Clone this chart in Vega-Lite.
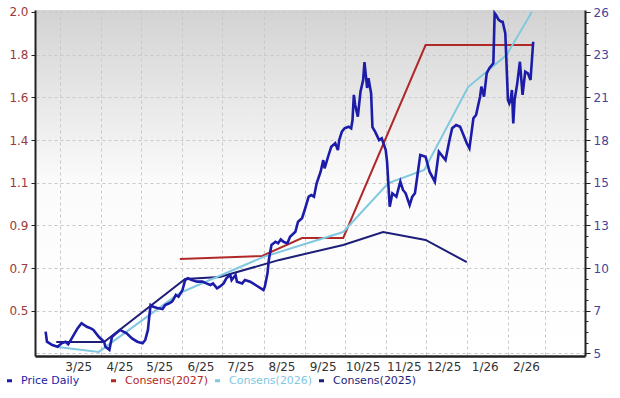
{
  "$schema": "https://vega.github.io/schema/vega-lite/v6.json",
  "width": 550,
  "height": 346,
  "autosize": {"type": "none"},
  "padding": {"left": 35, "top": 10, "right": 35, "bottom": 42},
  "background": "#ffffff",
  "config": {
    "font": "DejaVu Sans",
    "view": {"stroke": null, "fill": {"gradient": "linear", "x1": 0, "y1": 0, "x2": 0, "y2": 1, "stops": [{"offset": 0, "color": "#d3d3d3"}, {"offset": 0.5, "color": "#fbfbfb"}, {"offset": 1, "color": "#ffffff"}]}},
    "axis": {"labelFont": "DejaVu Sans", "labelFontSize": 12, "title": null, "labelOverlap": false, "labelFlush": false}
  },
  "data": {"values": [
    {"s": "Consens(2025)", "d": "2025/02/26", "v": 0.343},
    {"s": "Consens(2025)", "d": "2025/04/03", "v": 0.343},
    {"s": "Consens(2025)", "d": "2025/06/03", "v": 0.659},
    {"s": "Consens(2025)", "d": "2025/06/29", "v": 0.669},
    {"s": "Consens(2025)", "d": "2025/08/13", "v": 0.755},
    {"s": "Consens(2025)", "d": "2025/09/30", "v": 0.83},
    {"s": "Consens(2025)", "d": "2025/10/30", "v": 0.895},
    {"s": "Consens(2025)", "d": "2025/12/01", "v": 0.855},
    {"s": "Consens(2025)", "d": "2026/01/01", "v": 0.744},
    {"s": "Consens(2027)", "d": "2025/05/30", "v": 0.76},
    {"s": "Consens(2027)", "d": "2025/07/31", "v": 0.775},
    {"s": "Consens(2027)", "d": "2025/08/30", "v": 0.865},
    {"s": "Consens(2027)", "d": "2025/09/30", "v": 0.865},
    {"s": "Consens(2027)", "d": "2025/12/01", "v": 1.834},
    {"s": "Consens(2027)", "d": "2026/02/20", "v": 1.834},
    {"s": "Consens(2026)", "d": "2025/02/27", "v": 0.318},
    {"s": "Consens(2026)", "d": "2025/03/30", "v": 0.293},
    {"s": "Consens(2026)", "d": "2025/05/30", "v": 0.589},
    {"s": "Consens(2026)", "d": "2025/08/01", "v": 0.77},
    {"s": "Consens(2026)", "d": "2025/09/30", "v": 0.895},
    {"s": "Consens(2026)", "d": "2025/11/03", "v": 1.141},
    {"s": "Consens(2026)", "d": "2025/11/30", "v": 1.207},
    {"s": "Consens(2026)", "d": "2026/01/02", "v": 1.623},
    {"s": "Consens(2026)", "d": "2026/01/31", "v": 1.784},
    {"s": "Consens(2026)", "d": "2026/02/19", "v": 2.0},
    {"s": "Price Daily", "d": "2025/02/18", "v": 5.88},
    {"s": "Price Daily", "d": "2025/02/19", "v": 5.25},
    {"s": "Price Daily", "d": "2025/02/23", "v": 5.04},
    {"s": "Price Daily", "d": "2025/02/27", "v": 4.93},
    {"s": "Price Daily", "d": "2025/03/02", "v": 5.15},
    {"s": "Price Daily", "d": "2025/03/05", "v": 5.25},
    {"s": "Price Daily", "d": "2025/03/07", "v": 5.09},
    {"s": "Price Daily", "d": "2025/03/09", "v": 5.36},
    {"s": "Price Daily", "d": "2025/03/14", "v": 6.09},
    {"s": "Price Daily", "d": "2025/03/17", "v": 6.41},
    {"s": "Price Daily", "d": "2025/03/21", "v": 6.19},
    {"s": "Price Daily", "d": "2025/03/24", "v": 6.09},
    {"s": "Price Daily", "d": "2025/03/26", "v": 5.99},
    {"s": "Price Daily", "d": "2025/03/30", "v": 5.56},
    {"s": "Price Daily", "d": "2025/04/03", "v": 5.25},
    {"s": "Price Daily", "d": "2025/04/04", "v": 4.93},
    {"s": "Price Daily", "d": "2025/04/07", "v": 4.73},
    {"s": "Price Daily", "d": "2025/04/08", "v": 5.17},
    {"s": "Price Daily", "d": "2025/04/09", "v": 5.56},
    {"s": "Price Daily", "d": "2025/04/12", "v": 5.78},
    {"s": "Price Daily", "d": "2025/04/15", "v": 5.99},
    {"s": "Price Daily", "d": "2025/04/20", "v": 5.78},
    {"s": "Price Daily", "d": "2025/04/24", "v": 5.46},
    {"s": "Price Daily", "d": "2025/04/28", "v": 5.25},
    {"s": "Price Daily", "d": "2025/05/02", "v": 5.15},
    {"s": "Price Daily", "d": "2025/05/04", "v": 5.36},
    {"s": "Price Daily", "d": "2025/05/06", "v": 5.99},
    {"s": "Price Daily", "d": "2025/05/07", "v": 6.82},
    {"s": "Price Daily", "d": "2025/05/08", "v": 7.56},
    {"s": "Price Daily", "d": "2025/05/10", "v": 7.45},
    {"s": "Price Daily", "d": "2025/05/13", "v": 7.37},
    {"s": "Price Daily", "d": "2025/05/17", "v": 7.31},
    {"s": "Price Daily", "d": "2025/05/19", "v": 7.56},
    {"s": "Price Daily", "d": "2025/05/22", "v": 7.67},
    {"s": "Price Daily", "d": "2025/05/24", "v": 7.77},
    {"s": "Price Daily", "d": "2025/05/25", "v": 7.87},
    {"s": "Price Daily", "d": "2025/05/27", "v": 8.19},
    {"s": "Price Daily", "d": "2025/05/29", "v": 8.08},
    {"s": "Price Daily", "d": "2025/06/01", "v": 8.5},
    {"s": "Price Daily", "d": "2025/06/03", "v": 9.13},
    {"s": "Price Daily", "d": "2025/06/05", "v": 9.24},
    {"s": "Price Daily", "d": "2025/06/08", "v": 9.13},
    {"s": "Price Daily", "d": "2025/06/12", "v": 9.03},
    {"s": "Price Daily", "d": "2025/06/16", "v": 9.03},
    {"s": "Price Daily", "d": "2025/06/19", "v": 8.92},
    {"s": "Price Daily", "d": "2025/06/22", "v": 8.82},
    {"s": "Price Daily", "d": "2025/06/24", "v": 8.92},
    {"s": "Price Daily", "d": "2025/06/27", "v": 8.61},
    {"s": "Price Daily", "d": "2025/06/29", "v": 8.71},
    {"s": "Price Daily", "d": "2025/07/02", "v": 8.92},
    {"s": "Price Daily", "d": "2025/07/04", "v": 9.24},
    {"s": "Price Daily", "d": "2025/07/07", "v": 9.45},
    {"s": "Price Daily", "d": "2025/07/08", "v": 9.13},
    {"s": "Price Daily", "d": "2025/07/11", "v": 9.45},
    {"s": "Price Daily", "d": "2025/07/12", "v": 9.03},
    {"s": "Price Daily", "d": "2025/07/16", "v": 8.92},
    {"s": "Price Daily", "d": "2025/07/18", "v": 9.13},
    {"s": "Price Daily", "d": "2025/07/22", "v": 9.03},
    {"s": "Price Daily", "d": "2025/07/26", "v": 8.82},
    {"s": "Price Daily", "d": "2025/07/30", "v": 8.61},
    {"s": "Price Daily", "d": "2025/08/01", "v": 8.5},
    {"s": "Price Daily", "d": "2025/08/02", "v": 8.71},
    {"s": "Price Daily", "d": "2025/08/04", "v": 9.55},
    {"s": "Price Daily", "d": "2025/08/05", "v": 10.39},
    {"s": "Price Daily", "d": "2025/08/07", "v": 11.34},
    {"s": "Price Daily", "d": "2025/08/10", "v": 11.54},
    {"s": "Price Daily", "d": "2025/08/12", "v": 11.44},
    {"s": "Price Daily", "d": "2025/08/14", "v": 11.69},
    {"s": "Price Daily", "d": "2025/08/16", "v": 11.54},
    {"s": "Price Daily", "d": "2025/08/19", "v": 11.44},
    {"s": "Price Daily", "d": "2025/08/21", "v": 11.86},
    {"s": "Price Daily", "d": "2025/08/25", "v": 12.17},
    {"s": "Price Daily", "d": "2025/08/27", "v": 12.8},
    {"s": "Price Daily", "d": "2025/08/30", "v": 13.02},
    {"s": "Price Daily", "d": "2025/09/01", "v": 13.54},
    {"s": "Price Daily", "d": "2025/09/04", "v": 14.38},
    {"s": "Price Daily", "d": "2025/09/06", "v": 14.48},
    {"s": "Price Daily", "d": "2025/09/08", "v": 14.38},
    {"s": "Price Daily", "d": "2025/09/10", "v": 15.22},
    {"s": "Price Daily", "d": "2025/09/13", "v": 15.95},
    {"s": "Price Daily", "d": "2025/09/15", "v": 16.68},
    {"s": "Price Daily", "d": "2025/09/16", "v": 16.16},
    {"s": "Price Daily", "d": "2025/09/19", "v": 17.0},
    {"s": "Price Daily", "d": "2025/09/21", "v": 17.52},
    {"s": "Price Daily", "d": "2025/09/24", "v": 17.74},
    {"s": "Price Daily", "d": "2025/09/26", "v": 17.31},
    {"s": "Price Daily", "d": "2025/09/27", "v": 17.94},
    {"s": "Price Daily", "d": "2025/09/29", "v": 18.47},
    {"s": "Price Daily", "d": "2025/10/01", "v": 18.68},
    {"s": "Price Daily", "d": "2025/10/04", "v": 18.78},
    {"s": "Price Daily", "d": "2025/10/06", "v": 18.68},
    {"s": "Price Daily", "d": "2025/10/07", "v": 19.2},
    {"s": "Price Daily", "d": "2025/10/08", "v": 20.78},
    {"s": "Price Daily", "d": "2025/10/09", "v": 20.15},
    {"s": "Price Daily", "d": "2025/10/11", "v": 19.41},
    {"s": "Price Daily", "d": "2025/10/13", "v": 20.98},
    {"s": "Price Daily", "d": "2025/10/15", "v": 21.72},
    {"s": "Price Daily", "d": "2025/10/16", "v": 22.85},
    {"s": "Price Daily", "d": "2025/10/18", "v": 21.22},
    {"s": "Price Daily", "d": "2025/10/19", "v": 21.83},
    {"s": "Price Daily", "d": "2025/10/21", "v": 20.88},
    {"s": "Price Daily", "d": "2025/10/22", "v": 18.76},
    {"s": "Price Daily", "d": "2025/10/24", "v": 18.47},
    {"s": "Price Daily", "d": "2025/10/27", "v": 17.94},
    {"s": "Price Daily", "d": "2025/10/29", "v": 18.05},
    {"s": "Price Daily", "d": "2025/11/01", "v": 17.31},
    {"s": "Price Daily", "d": "2025/11/02", "v": 16.58},
    {"s": "Price Daily", "d": "2025/11/04", "v": 13.75},
    {"s": "Price Daily", "d": "2025/11/06", "v": 14.59},
    {"s": "Price Daily", "d": "2025/11/09", "v": 14.38},
    {"s": "Price Daily", "d": "2025/11/12", "v": 15.32},
    {"s": "Price Daily", "d": "2025/11/14", "v": 14.8},
    {"s": "Price Daily", "d": "2025/11/16", "v": 14.59},
    {"s": "Price Daily", "d": "2025/11/19", "v": 13.85},
    {"s": "Price Daily", "d": "2025/11/21", "v": 14.38},
    {"s": "Price Daily", "d": "2025/11/23", "v": 14.59},
    {"s": "Price Daily", "d": "2025/11/27", "v": 17.0},
    {"s": "Price Daily", "d": "2025/12/01", "v": 16.89},
    {"s": "Price Daily", "d": "2025/12/04", "v": 15.95},
    {"s": "Price Daily", "d": "2025/12/08", "v": 15.32},
    {"s": "Price Daily", "d": "2025/12/11", "v": 17.21},
    {"s": "Price Daily", "d": "2025/12/14", "v": 16.89},
    {"s": "Price Daily", "d": "2025/12/16", "v": 16.68},
    {"s": "Price Daily", "d": "2025/12/19", "v": 17.94},
    {"s": "Price Daily", "d": "2025/12/21", "v": 18.68},
    {"s": "Price Daily", "d": "2025/12/24", "v": 18.89},
    {"s": "Price Daily", "d": "2025/12/27", "v": 18.78},
    {"s": "Price Daily", "d": "2025/12/29", "v": 18.37},
    {"s": "Price Daily", "d": "2026/01/01", "v": 17.74},
    {"s": "Price Daily", "d": "2026/01/03", "v": 17.42},
    {"s": "Price Daily", "d": "2026/01/06", "v": 19.31},
    {"s": "Price Daily", "d": "2026/01/08", "v": 19.52},
    {"s": "Price Daily", "d": "2026/01/11", "v": 20.67},
    {"s": "Price Daily", "d": "2026/01/12", "v": 21.3},
    {"s": "Price Daily", "d": "2026/01/14", "v": 20.67},
    {"s": "Price Daily", "d": "2026/01/16", "v": 22.14},
    {"s": "Price Daily", "d": "2026/01/18", "v": 22.46},
    {"s": "Price Daily", "d": "2026/01/21", "v": 22.77},
    {"s": "Price Daily", "d": "2026/01/22", "v": 25.92},
    {"s": "Price Daily", "d": "2026/01/23", "v": 25.81},
    {"s": "Price Daily", "d": "2026/01/25", "v": 25.5},
    {"s": "Price Daily", "d": "2026/01/27", "v": 25.39},
    {"s": "Price Daily", "d": "2026/01/28", "v": 25.39},
    {"s": "Price Daily", "d": "2026/01/30", "v": 24.66},
    {"s": "Price Daily", "d": "2026/02/01", "v": 20.46},
    {"s": "Price Daily", "d": "2026/02/02", "v": 20.25},
    {"s": "Price Daily", "d": "2026/02/03", "v": 20.46},
    {"s": "Price Daily", "d": "2026/02/04", "v": 21.09},
    {"s": "Price Daily", "d": "2026/02/05", "v": 18.99},
    {"s": "Price Daily", "d": "2026/02/06", "v": 20.46},
    {"s": "Price Daily", "d": "2026/02/08", "v": 21.51},
    {"s": "Price Daily", "d": "2026/02/10", "v": 22.87},
    {"s": "Price Daily", "d": "2026/02/12", "v": 20.78},
    {"s": "Price Daily", "d": "2026/02/14", "v": 22.24},
    {"s": "Price Daily", "d": "2026/02/16", "v": 22.14},
    {"s": "Price Daily", "d": "2026/02/18", "v": 21.72},
    {"s": "Price Daily", "d": "2026/02/20", "v": 24.13}
  ]},
  "encoding": {
    "x": {
      "field": "d",
      "type": "temporal",
      "scale": {"domain": [{"year": 2025, "month": 2, "date": 10}, {"year": 2026, "month": 3, "date": 31}]},
      "axis": {
        "values": [
          {"year": 2025, "month": 3, "date": 1}, {"year": 2025, "month": 4, "date": 1}, {"year": 2025, "month": 5, "date": 1},
          {"year": 2025, "month": 6, "date": 1}, {"year": 2025, "month": 7, "date": 1}, {"year": 2025, "month": 8, "date": 1},
          {"year": 2025, "month": 9, "date": 1}, {"year": 2025, "month": 10, "date": 1}, {"year": 2025, "month": 11, "date": 1},
          {"year": 2025, "month": 12, "date": 1}, {"year": 2026, "month": 1, "date": 1}, {"year": 2026, "month": 2, "date": 1},
          {"year": 2026, "month": 3, "date": 1}
        ],
        "labelExpr": "datum.value >= datetime(2026, 2, 1) ? '' : timeFormat(datum.value, '%-m/%y')",
        "labelOffset": 18,
        "labelPadding": 5,
        "labelColor": "#333333",
        "ticks": false,
        "grid": true,
        "gridDash": [3, 3],
        "gridColor": "#c8c8c8",
        "domainColor": "#222222",
        "domainWidth": 2.5
      }
    }
  },
  "layer": [
    {
      "transform": [{"filter": "datum.s != 'Price Daily'"}],
      "mark": {"type": "line", "interpolate": "linear"},
      "encoding": {
        "y": {
          "field": "v",
          "type": "quantitative",
          "scale": {"domain": [0.2724, 2.01], "nice": false, "zero": false},
          "axis": {
            "orient": "left",
            "values": [0.5, 0.7142857, 0.9285714, 1.1428571, 1.3571429, 1.5714286, 1.7857143, 2.0],
            "format": ".1f",
            "labelColor": "#9a3a3a",
            "tickColor": "#222222",
            "tickSize": 4,
            "labelPadding": 3,
            "domainColor": "#222222",
            "domainWidth": 2,
            "grid": false
          }
        },
        "color": {
          "field": "s",
          "type": "nominal",
          "scale": {"domain": ["Price Daily", "Consens(2027)", "Consens(2026)", "Consens(2025)"], "range": ["#1c1ca8", "#b02828", "#80c8e0", "#1e1e78"]},
          "legend": {
            "orient": "none", "legendX": -31, "legendY": 365, "direction": "horizontal", "columns": 4, "gridAlign": "all",
            "title": null, "symbolType": "stroke", "symbolSize": 25, "symbolStrokeWidth": 3, "labelFontSize": 11,
            "labelFont": "DejaVu Sans", "columnPadding": 0, "labelOffset": 6,
            "encode": {"labels": {"update": {"fill": {"scale": "color", "field": "value"}}}}
          }
        },
        "strokeWidth": {
          "field": "s",
          "type": "nominal",
          "scale": {"domain": ["Consens(2027)", "Consens(2026)", "Consens(2025)"], "range": [2, 2, 2.5]},
          "legend": null
        }
      }
    },
    {
      "transform": [{"filter": "datum.s == 'Price Daily'"}],
      "mark": {"type": "line", "strokeWidth": 2.6, "interpolate": "linear"},
      "encoding": {
        "y": {
          "field": "v",
          "type": "quantitative",
          "scale": {"domain": [4.35, 26.126], "nice": false, "zero": false},
          "axis": {
            "orient": "right",
            "values": [26, 25.3285714, 24.6571429, 23.9857143, 23.3142857, 22.6428571, 21.9714286, 21.3, 20.6285714, 19.9571429, 19.2857143, 18.6142857, 17.9428571, 17.2714286, 16.6, 15.9285714, 15.2571429, 14.5857143, 13.9142857, 13.2428571, 12.5714286, 11.9, 11.2285714, 10.5571429, 9.8857143, 9.2142857, 8.5428571, 7.8714286, 7.2, 6.5285714, 5.8571429, 5.1857143, 4.5142857],
            "labelExpr": "round((26 - datum.value) / 0.6714286) % 4 == 0 ? format(datum.value, '.0f') : ''",
            "labelColor": "#45459a",
            "tickColor": "#222222",
            "tickSize": {"condition": {"test": "round((26 - datum.value) / 0.6714286) % 4 == 0", "value": 5}, "value": 3},
            "labelPadding": 3,
            "domainColor": "#222222",
            "domainWidth": 2,
            "grid": true,
            "gridDash": [3, 3],
            "gridColor": "#c8c8c8",
            "gridOpacity": {"condition": {"test": "round((26 - datum.value) / 0.6714286) % 4 == 0", "value": 1}, "value": 0}
          }
        },
        "color": {
          "field": "s",
          "type": "nominal",
          "scale": {"domain": ["Price Daily", "Consens(2027)", "Consens(2026)", "Consens(2025)"], "range": ["#1c1ca8", "#b02828", "#80c8e0", "#1e1e78"]},
          "legend": {
            "orient": "none", "legendX": -31, "legendY": 365, "direction": "horizontal", "columns": 4, "gridAlign": "all",
            "title": null, "symbolType": "stroke", "symbolSize": 25, "symbolStrokeWidth": 3, "labelFontSize": 11,
            "labelFont": "DejaVu Sans", "columnPadding": 0, "labelOffset": 6,
            "encode": {"labels": {"update": {"fill": {"scale": "color", "field": "value"}}}}
          }
        }
      }
    }
  ],
  "resolve": {"scale": {"y": "independent"}}
}
